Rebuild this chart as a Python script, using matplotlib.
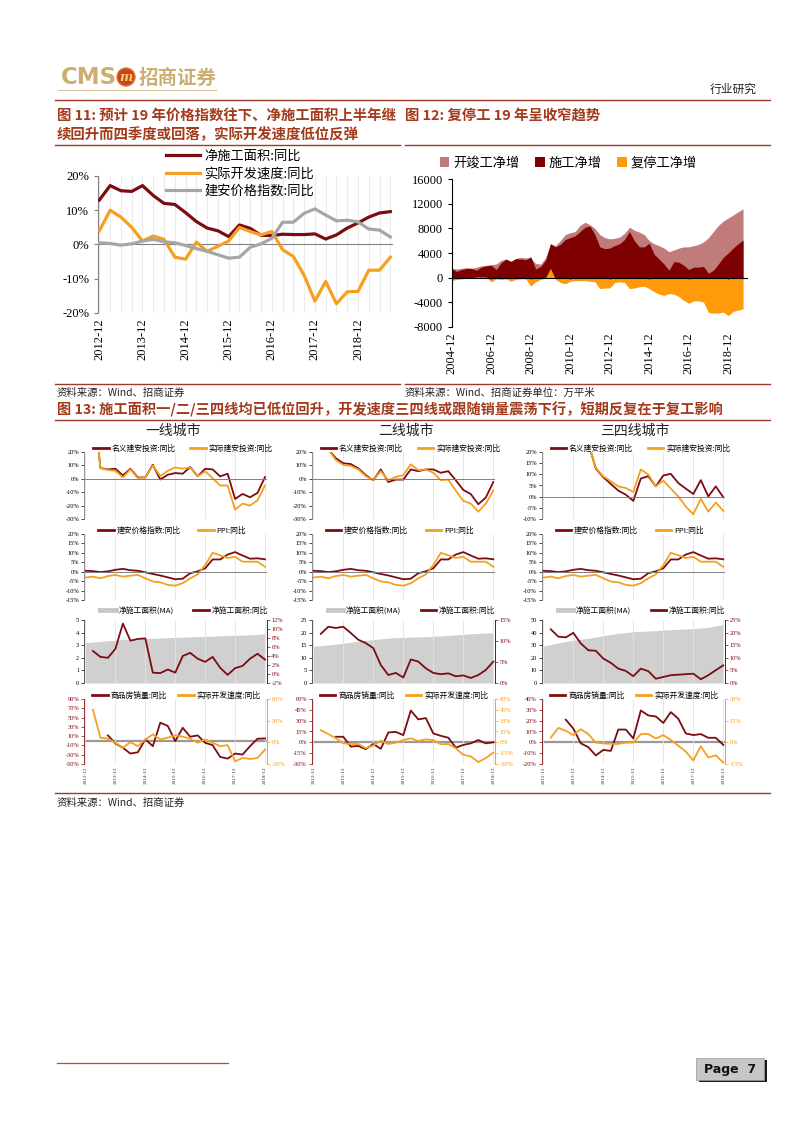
import numpy as np
import matplotlib
matplotlib.use('Agg')
import matplotlib.pyplot as plt
from matplotlib.lines import Line2D
from matplotlib.legend import Legend
from matplotlib.patches import Rectangle, Ellipse

# ---------------- data ----------------
# Figure 11 (quarterly, 2012-12 .. 2019-09)
fig11_ticklabels = ['2012-12', '2013-12', '2014-12', '2015-12', '2016-12', '2017-12', '2018-12']
fig11_net_area = [13, 17.2, 15.7, 15.5, 17.2, 14.3, 12, 11.7, 9.3, 6.7, 4.8, 4, 2.3, 5.7, 4.7, 2.7,
                  2.6, 3, 2.9, 2.9, 3.1, 1.6, 2.8, 4.8, 6.3, 8, 9.2, 9.6]
fig11_speed = [4, 10, 8, 5, 1, 2.5, 1.5, -3.7, -4.3, 0.7, -2, -0.5, 1, 5, 3.8, 2.8,
               3.8, -1.5, -3.5, -9, -16.5, -10.8, -17.3, -13.8, -13.7, -7.5, -7.5, -3.7]
fig11_price = [0.5, 0.3, -0.2, 0.2, 1, 1.5, 0.8, 0.5, -0.3, -1.2, -2, -3, -4, -3.7, -0.8, 0.2,
               1.8, 6.5, 6.5, 9.1, 10.4, 8.6, 6.9, 7.1, 6.6, 4.5, 4.2, 2.2]

# Figure 12 (quarterly, 2004-12 .. 2019-09), 万平米
fig12_ticklabels = ['2004-12', '2006-12', '2008-12', '2010-12', '2012-12', '2014-12', '2016-12', '2018-12']
fig12_kaijun = [1500, 1400, 1500, 1600, 1500, 1700, 1900, 2000, 2100, 2200, 2800, 3000, 2700, 3100, 3300,
                3200, 3200, 2300, 2200, 3200, 5500, 5200, 6000, 7000, 7300, 7500, 8500, 9000, 8600, 8000,
                7000, 6500, 6300, 6400, 6600, 7200, 8200, 7700, 7400, 7000, 6000, 5500, 5200, 4800, 4200,
                4500, 4800, 5000, 5000, 5200, 5400, 5800, 6500, 7500, 8500, 9200, 9700, 10200, 10700, 11200]
fig12_shigong = [1500, 1000, 1300, 1500, 1500, 1200, 1700, 1900, 2000, 1300, 2400, 3000, 2600, 3100, 3000,
                 2900, 3400, 1400, 1800, 2800, 5500, 5000, 5400, 6200, 6500, 6800, 7500, 8200, 8400, 7000,
                 5000, 4700, 4800, 5200, 5500, 6200, 7500, 6000, 5000, 5000, 5600, 3800, 3000, 2200, 1200,
                 2600, 2500, 2000, 1300, 1700, 1700, 1800, 700, 1200, 2200, 3300, 4000, 4800, 5500, 6100]
fig12_futing = [-500, -300, -200, -100, -100, 100, 100, 100, -700, -200, -300, -200, -600, -300, -200,
                -200, -1400, -700, -300, 0, 1500, -300, -800, -1000, -600, -500, -500, -500, -600, -700,
                -1800, -1700, -1700, -800, -700, -800, -1800, -1700, -1500, -1400, -1800, -2300, -2700, -2900, -2600,
                -2700, -3100, -3700, -4200, -3800, -3800, -4000, -5700, -5800, -5800, -5600, -6200, -5500, -5300, -5100]

# Figure 13 (quarterly, 2012-12 .. 2018-12)
nan = np.nan
city_ticklabels = ['2012-12', '2013-12', '2014-12', '2015-12', '2016-12', '2017-12', '2018-12']
city_titles = ['一线城市', '二线城市', '三四线城市']
c1_nominal = [nan, 60, 8, 7, 7.5, 2.5, 7.5, 1, 1, 10.5, -0.5, 3, 4.3, 3.8, 8.8, 1.8, 7.5, 7, 1.8, 3.8,
              -15, -11.3, -13.8, -10.5, 1.3]
c1_real = [nan, 60, 8, 6.5, 6, 1, 7, 0.5, 1, 10, 2, 6, 8.5, 7.5, 8.5, 1.8, 5.5, 0.5, -5, -5,
           -23, -18.5, -20, -16, -5]
c2_nominal = [nan, nan, 22, 15.4, 11.6, 11, 7.8, 2.7, -1.1, 7, -2.4, -0.6, -0.6, 7, 5.7, 7, 7, 4.5, 5.7,
              -1.1, -8.3, -11.4, -19, -14, -2.4]
c2_real = [nan, nan, 22, 14, 10.3, 9.6, 7, 1.9, -1.1, 5.7, -1.1, 1.4, 2.7, 10.8, 6.5, 7, 4.5, -1.1, -0.6,
           -8.8, -16.5, -18.5, -24.6, -18.5, -8.8]
c3_nominal = [nan, nan, nan, nan, nan, nan, 24, 12.6, 8.7, 5.7, 2.7, 0.9, -1.9, 8.1, 9.2, 4.6, 9.5, 10.2,
              6.1, 3.6, 1.2, 7.4, 0.1, 4.6, -0.3]
c3_real = [nan, nan, nan, nan, nan, nan, 24, 12.9, 9.1, 6.9, 4.6, 3.9, 2.1, 12.2, 9.9, 4.6, 7.2, 3.6,
           0.1, -4.4, -7.9, -1, -6.7, -2.6, -6.4]
city_price = [0.5, 0.3, -0.2, 0.2, 1, 1.5, 0.8, 0.5, -0.3, -1.2, -2, -3, -4, -3.7, -0.8, 0.2,
              1.8, 6.5, 6.5, 9.1, 10.4, 8.6, 6.9, 7.1, 6.6]
city_ppi = [-3.1, -2.6, -3.5, -2.3, -1.7, -2.6, -2.1, -1.7, -3.5, -5.2, -5.6, -7, -7.4, -6.1, -3.5, -1.4,
            3.5, 10, 8.7, 7.3, 7.9, 5.3, 5.3, 5.3, 2.6]
c1_area = [3.2, 3.25, 3.3, 3.35, 3.4, 3.45, 3.48, 3.5, 3.52, 3.55, 3.57, 3.6, 3.62, 3.64, 3.66, 3.68,
           3.7, 3.72, 3.74, 3.76, 3.78, 3.8, 3.83, 3.86, 3.9]
c1_area_yoy = [nan, 5.1, 3.8, 3.6, 5.6, 11.2, 7.4, 7.8, 7.9, 0.3, 0.2, 1, 0.3, 4, 4.7, 3.4, 2.7, 3.8,
               1.4, -0.2, 1.3, 1.8, 3.4, 4.5, 3.2]
c2_area = [14.5, 14.8, 15.1, 15.4, 15.8, 16.2, 16.6, 16.9, 17.2, 17.5, 17.8, 18, 18.1, 18.2, 18.3, 18.4,
           18.5, 18.7, 18.9, 19.1, 19.3, 19.5, 19.7, 19.85, 20]
c2_area_yoy = [nan, 11.7, 13.4, 13.1, 13.4, 11.9, 10.3, 9.5, 8.3, 4.3, 1.9, 2.4, 1.3, 5.6, 5.1, 3.5,
               2.4, 2.1, 2.3, 1.6, 1.8, 1.2, 1.9, 3.1, 5.1]
c3_area = [29.3, 30.5, 31.8, 33, 34, 34.8, 35.5, 36.5, 37.5, 38.5, 39.4, 40, 40.7, 41, 41.3, 41.6, 42,
           42.3, 42.6, 42.9, 43.2, 43.6, 44.2, 45.3, 46.5]
c3_area_yoy = [nan, 21.3, 18.4, 18.1, 19.9, 15.7, 13, 12.8, 9.7, 8, 5.7, 4.8, 2.7, 5.7, 4.7, 1.7, 2.4,
               3.1, 3.3, 3.5, 3.7, 1.5, 3.1, 5.1, 7]
c1_sales = [nan, nan, nan, 11.6, -5.8, -15, -27.5, -24.7, 3, -11.6, 39, 32, -0.7, 28, 8.7, 11.6, -4.4,
            -9.4, -34.8, -38.4, -27.5, -29.7, -11.6, 4.4, 5]
c1_speed = [nan, 45, 6.4, 5, -0.6, -7.6, 0.3, -5.3, 4, 11, 4, 6.4, 9.7, 7.8, 5, -0.6, 4, -0.6, -5.3,
            -3.9, -26.3, -21.6, -23, -21.6, -10]
c2_sales = [nan, nan, nan, 7.7, 7.7, -5.9, -5, -9.5, -2.3, -9, 13.6, 14.5, 10, 44, 31.8, 33.6, 12.3, 9,
            6.4, -7.3, -3.6, -1.4, 3.2, -1.4, 0]
c2_speed = [nan, 16.8, 11.4, 5.5, -1.4, -2.3, -2.3, -8.2, -4.5, 2.3, -2.3, -0.5, 3.2, 5.5, 1.8, 4.1,
            3.2, -2.7, -2.3, -8.2, -17.3, -19.5, -27.3, -21.8, -14.1]
c3_sales = [nan, nan, nan, 20.9, 12.7, -0.9, -4.5, -12.1, -7, -7.9, 11.8, 11.8, 3.6, 29.4, 24.8, 23.9,
            17.9, 27.9, 21.8, 8.2, 6.7, 7.6, 4.2, 4.2, -2.4]
c3_speed = [nan, 3.2, 10, 8, 5, 9.1, 5.7, -0.2, -0.7, -1.1, -1.1, -0.2, -0.2, 5.7, 5.7, 2.7, 5, 1.6,
            -2.3, -6.4, -12.5, -2.7, -10.5, -9, -14]

# ---------------- style ----------------
plt.rcParams['font.family'] = ['Noto Sans CJK SC', 'DejaVu Sans']
plt.rcParams['axes.unicode_minus'] = False
DR = '#7B0C12'
OR = '#F5A01E'
GR = '#A6A6A6'
TITLE_C = '#A33A1C'
RULE_C = '#9E3A2B'
SERIF = 'Liberation Serif'

W, H = 802, 1133
fig = plt.figure(figsize=(W / 100, H / 100), dpi=100)


def rect(x0, y0, x1, y1):
    return [x0 / W, 1 - y1 / H, (x1 - x0) / W, (y1 - y0) / H]


def fx(x):
    return x / W


def fy(y):
    return 1 - y / H


def hline(x0, x1, y, color=RULE_C, lw=1.0):
    fig.add_artist(Line2D([fx(x0), fx(x1)], [fy(y), fy(y)], color=color, lw=lw,
                          transform=fig.transFigure))


def pct(v, pos=None):
    return f'{v:g}%'


# ---------------- page header ----------------
fig.text(fx(61), fy(78), 'CMS', fontsize=16.5, fontweight='bold', color='#CDAE72',
         family='DejaVu Sans', va='center', ha='left')
fig.add_artist(Ellipse((fx(126), fy(77)), 18 / W, 18 / H, transform=fig.transFigure,
                       facecolor='#C8441E', edgecolor='#E07A2A', lw=1))
fig.text(fx(126), fy(77.5), 'm', fontsize=9, fontweight='bold', color='#F6D36B', style='italic',
         family='DejaVu Serif', ha='center', va='center')
fig.text(fx(139), fy(78), '招商证券', fontsize=14, fontweight='bold', color='#CDAE72',
         va='center', ha='left')
hline(58, 216, 90, color='#D8C49A', lw=0.8)
fig.text(fx(757), fy(89), '行业研究', fontsize=8.5, color='#222222', ha='right', va='center')
hline(55, 770, 100, lw=1.0)

# ---------------- titles ----------------
TFS = 10.4
fig.text(fx(57), fy(116), '图 11: 预计 19 年价格指数往下、净施工面积上半年继', fontsize=TFS,
         fontweight='bold', color=TITLE_C, va='center')
fig.text(fx(57), fy(135), '续回升而四季度或回落，实际开发速度低位反弹', fontsize=TFS,
         fontweight='bold', color=TITLE_C, va='center')
fig.text(fx(405), fy(116), '图 12: 复停工 19 年呈收窄趋势', fontsize=TFS,
         fontweight='bold', color=TITLE_C, va='center')
hline(55, 400, 145)
hline(405, 770, 145)

# ---------------- Figure 11 ----------------
ax = fig.add_axes(rect(98.3, 176, 392.5, 313))
x11 = np.arange(len(fig11_net_area))
ax.plot(x11, fig11_net_area, color=DR, lw=2.3, label='净施工面积:同比', zorder=3)
ax.plot(x11, fig11_speed, color=OR, lw=2.3, label='实际开发速度:同比', zorder=3)
ax.plot(x11, fig11_price, color=GR, lw=2.3, label='建安价格指数:同比', zorder=3)
ax.axhline(0, color='#808080', lw=0.8, zorder=2)
ax.set_xlim(-0.1, 27.2)
ax.set_ylim(-20, 20)
ax.set_yticks([-20, -10, 0, 10, 20])
ax.yaxis.set_major_formatter(pct)
ax.set_xticks(np.arange(0, 25, 4))
ax.set_xticklabels(fig11_ticklabels, rotation=90)
ax.set_xticks(x11, minor=True)
ax.grid(axis='x', which='both', color='#EBEBEB', lw=0.8)
ax.tick_params(axis='x', which='both', length=0, labelsize=9, labelfontfamily=SERIF, pad=4)
ax.tick_params(axis='y', length=3, labelsize=9, labelfontfamily=SERIF, color='#808080')
for s in ['top', 'right', 'bottom']:
    ax.spines[s].set_visible(False)
ax.spines['left'].set_color('#808080')
ax.legend(loc='upper left', bbox_to_anchor=(fx(166), fy(150)), bbox_transform=fig.transFigure,
          frameon=False, fontsize=9.5, handlelength=2.6, handletextpad=0.3, labelspacing=0.32,
          borderaxespad=0, borderpad=0)

# ---------------- Figure 12 ----------------
ax = fig.add_axes(rect(451.7, 179.3, 748, 326.7))
x12 = np.arange(len(fig12_kaijun))
ax.fill_between(x12, 0, fig12_kaijun, color='#C27B7B', lw=0, label='开竣工净增')
ax.fill_between(x12, 0, fig12_shigong, color='#7E0000', lw=0, label='施工净增')
ax.fill_between(x12, 0, fig12_futing, color='#FF9A0A', lw=0, label='复停工净增')
ax.axhline(0, color='black', lw=0.8)
ticks12 = np.arange(0, 57, 8)
ax.vlines(ticks12, -280, 0, color='black', lw=0.8)
ax.set_xlim(0, 60)
ax.set_ylim(-8000, 16000)
ax.set_yticks(np.arange(-8000, 16001, 4000))
ax.set_xticks(ticks12)
ax.set_xticklabels(fig12_ticklabels, rotation=90)
ax.tick_params(axis='x', length=0, labelsize=9, labelfontfamily=SERIF, pad=4)
ax.tick_params(axis='y', length=3, labelsize=9, labelfontfamily=SERIF)
for s in ['top', 'right', 'bottom']:
    ax.spines[s].set_visible(False)
ax.legend(loc='center left', bbox_to_anchor=(fx(440), fy(163)), bbox_transform=fig.transFigure,
          frameon=False, fontsize=9.5, ncol=3, handlelength=0.7, handleheight=0.7,
          handletextpad=0.3, columnspacing=1.2, borderaxespad=0, borderpad=0)

# sources for 11/12
hline(55, 400, 384)
hline(405, 770, 384)
fig.text(fx(57), fy(393), '资料来源：Wind、招商证券', fontsize=7.5, color='#222222', va='center')
fig.text(fx(405), fy(393), '资料来源：Wind、招商证券单位：万平米', fontsize=7.5, color='#222222', va='center')

# ---------------- Figure 13 ----------------
fig.text(fx(57), fy(410), '图 13: 施工面积一/二/三四线均已低位回升，开发速度三四线或跟随销量震荡下行，短期反复在于复工影响',
         fontsize=10.25, fontweight='bold', color=TITLE_C, va='center')
hline(55, 770, 420)

cols = [(84, 266.5), (311.8, 494.8), (541.8, 724.8)]
title_x = [173, 406, 635]
rows = [(452, 519), (534, 600), (620, 683), (699, 764)]
xq = np.arange(25)

nominals = [c1_nominal, c2_nominal, c3_nominal]
reals = [c1_real, c2_real, c3_real]
areas = [c1_area, c2_area, c3_area]
area_yoys = [c1_area_yoy, c2_area_yoy, c3_area_yoy]
sales = [c1_sales, c2_sales, c3_sales]
speeds = [c1_speed, c2_speed, c3_speed]

row1_ylim = [(-30, 20, 10), (-30, 20, 10), (-10, 20, 5)]
row3_left = [(0, 5, 1), (0, 25, 5), (0, 50, 10)]
row3_right = [(-2, 12, 2), (0, 15, 5), (0, 25, 5)]
row4_left = [(-50, 90, 20), (-30, 60, 15), (-20, 40, 10)]
row4_right = [(-30, 60, 30), (-30, 60, 15), (-15, 30, 15)]

LS = 4.6   # tick label size
LEG = 5.6  # legend size


def base_small(x0, x1, y0, y1):
    a = fig.add_axes(rect(x0, y0, x1, y1))
    a.set_xlim(-0.2, 24.2)
    a.set_xticks(np.arange(0, 25, 4))
    a.grid(axis='x', color='#E3E3E3', lw=0.6)
    a.tick_params(axis='x', length=0, labelbottom=False)
    a.tick_params(axis='y', length=2, width=0.5, labelsize=LS, labelfontfamily=SERIF, pad=1.5)
    for s in ['top', 'right', 'bottom']:
        a.spines[s].set_visible(False)
    a.spines['left'].set_linewidth(0.6)
    a.spines['left'].set_color('#808080')
    return a


def two_legend(a, handles, labels, xs, y):
    for h, l, xx in zip(handles, labels, xs):
        lg = Legend(a, [h], [l], loc='center left', bbox_to_anchor=(fx(xx), fy(y)),
                    bbox_transform=fig.transFigure, frameon=False, fontsize=LEG,
                    handlelength=2.0, handletextpad=0.35, borderaxespad=0, borderpad=0)
        a.add_artist(lg)


for c in range(3):
    x0, x1 = cols[c]
    off = x0 - 84
    fig.text(fx(title_x[c]), fy(431), city_titles[c], fontsize=10, ha='center', va='center',
             color='#222222')

    # row 1: 名义/实际建安投资
    a = base_small(x0, x1, *rows[0])
    a.plot(xq, nominals[c], color=DR, lw=1.3)
    a.plot(xq, reals[c], color=OR, lw=1.3)
    a.axhline(0, color='#808080', lw=0.7)
    lo, hi, st = row1_ylim[c]
    a.set_ylim(lo, hi)
    a.set_yticks(np.arange(lo, hi + 0.1, st))
    a.yaxis.set_major_formatter(pct)
    two_legend(a, [Line2D([], [], color=DR, lw=2), Line2D([], [], color=OR, lw=2)],
               ['名义建安投资:同比', '实际建安投资:同比'], [93 + off, 190 + off], 449)

    # row 2: 建安价格指数 / PPI
    a = base_small(x0, x1, *rows[1])
    a.plot(xq, city_price, color=DR, lw=1.3)
    a.plot(xq, city_ppi, color=OR, lw=1.3)
    a.axhline(0, color='#808080', lw=0.7)
    a.set_ylim(-15, 20)
    a.set_yticks(np.arange(-15, 20.1, 5))
    a.yaxis.set_major_formatter(pct)
    two_legend(a, [Line2D([], [], color=DR, lw=2), Line2D([], [], color=OR, lw=2)],
               ['建安价格指数:同比', 'PPI:同比'], [98 + off, 198 + off], 531)

    # row 3: 净施工面积 MA (area) / 同比 (line, right)
    a = base_small(x0, x1, *rows[2])
    a.fill_between(xq, 0, areas[c], color='#D0D0D0', lw=0)
    lo, hi, st = row3_left[c]
    a.set_ylim(lo, hi)
    a.set_yticks(np.arange(lo, hi + 0.1, st))
    a.spines['left'].set_color('#404040')
    b = a.twinx()
    b.set_xlim(-0.2, 24.2)
    b.plot(xq, area_yoys[c], color=DR, lw=1.3)
    lo, hi, st = row3_right[c]
    b.set_ylim(lo, hi)
    b.set_yticks(np.arange(lo, hi + 0.1, st))
    b.yaxis.set_major_formatter(pct)
    b.tick_params(axis='y', length=2, width=0.5, labelsize=LS, labelfontfamily=SERIF, pad=1.5,
                  colors=DR)
    for s in ['top', 'left', 'bottom']:
        b.spines[s].set_visible(False)
    b.spines['right'].set_color(DR)
    b.spines['right'].set_linewidth(0.7)
    two_legend(a, [Line2D([], [], color='#C8C8C8', lw=3.5), Line2D([], [], color=DR, lw=2)],
               ['净施工面积(MA)', '净施工面积:同比'], [100 + off, 193 + off], 611)

    # row 4: 商品房销量 (left) / 实际开发速度 (right)
    a = base_small(x0, x1, *rows[3])
    lo, hi, st = row4_left[c]
    a.set_ylim(lo, hi)
    a.set_yticks(np.arange(lo, hi + 0.1, st))
    a.yaxis.set_major_formatter(pct)
    a.tick_params(axis='y', colors=DR)
    a.spines['left'].set_color(DR)
    a.axhline(0, color='#9A9A9A', lw=1.6, zorder=1)
    a.plot(xq, sales[c], color=DR, lw=1.3, zorder=3)
    a.tick_params(axis='x', labelbottom=True, labelsize=3.8, labelfontfamily=SERIF, pad=2,
                  labelcolor='#333333')
    a.set_xticklabels(city_ticklabels, rotation=90)
    b = a.twinx()
    b.set_xlim(-0.2, 24.2)
    b.plot(xq, speeds[c], color=OR, lw=1.3, zorder=3)
    lo, hi, st = row4_right[c]
    b.set_ylim(lo, hi)
    b.set_yticks(np.arange(lo, hi + 0.1, st))
    b.yaxis.set_major_formatter(pct)
    b.tick_params(axis='y', length=2, width=0.5, labelsize=LS, labelfontfamily=SERIF, pad=1.5,
                  colors=OR)
    for s in ['top', 'left', 'bottom']:
        b.spines[s].set_visible(False)
    b.spines['right'].set_color(OR)
    b.spines['right'].set_linewidth(0.7)
    two_legend(a, [Line2D([], [], color=DR, lw=2), Line2D([], [], color=OR, lw=2)],
               ['商品房销量:同比', '实际开发速度:同比'], [92 + off, 178 + off], 696)

hline(55, 770, 793)
fig.text(fx(57), fy(803), '资料来源：Wind、招商证券', fontsize=7.5, color='#222222', va='center')

# ---------------- footer ----------------
hline(57, 228, 1063, color='#B0522E', lw=0.9)
fig.add_artist(Rectangle((fx(699), fy(1082)), 68 / W, 22 / H, transform=fig.transFigure,
                         facecolor='#1A1A1A', edgecolor='none'))
fig.add_artist(Rectangle((fx(696), fy(1080)), 68 / W, 22 / H, transform=fig.transFigure,
                         facecolor='#C6C6C6', edgecolor='#999999', lw=0.5))
fig.text(fx(730), fy(1069), 'Page  7', fontsize=9, fontweight='bold', family='DejaVu Sans',
         ha='center', va='center', color='#111111')

fig.savefig('out.png', dpi=100)
